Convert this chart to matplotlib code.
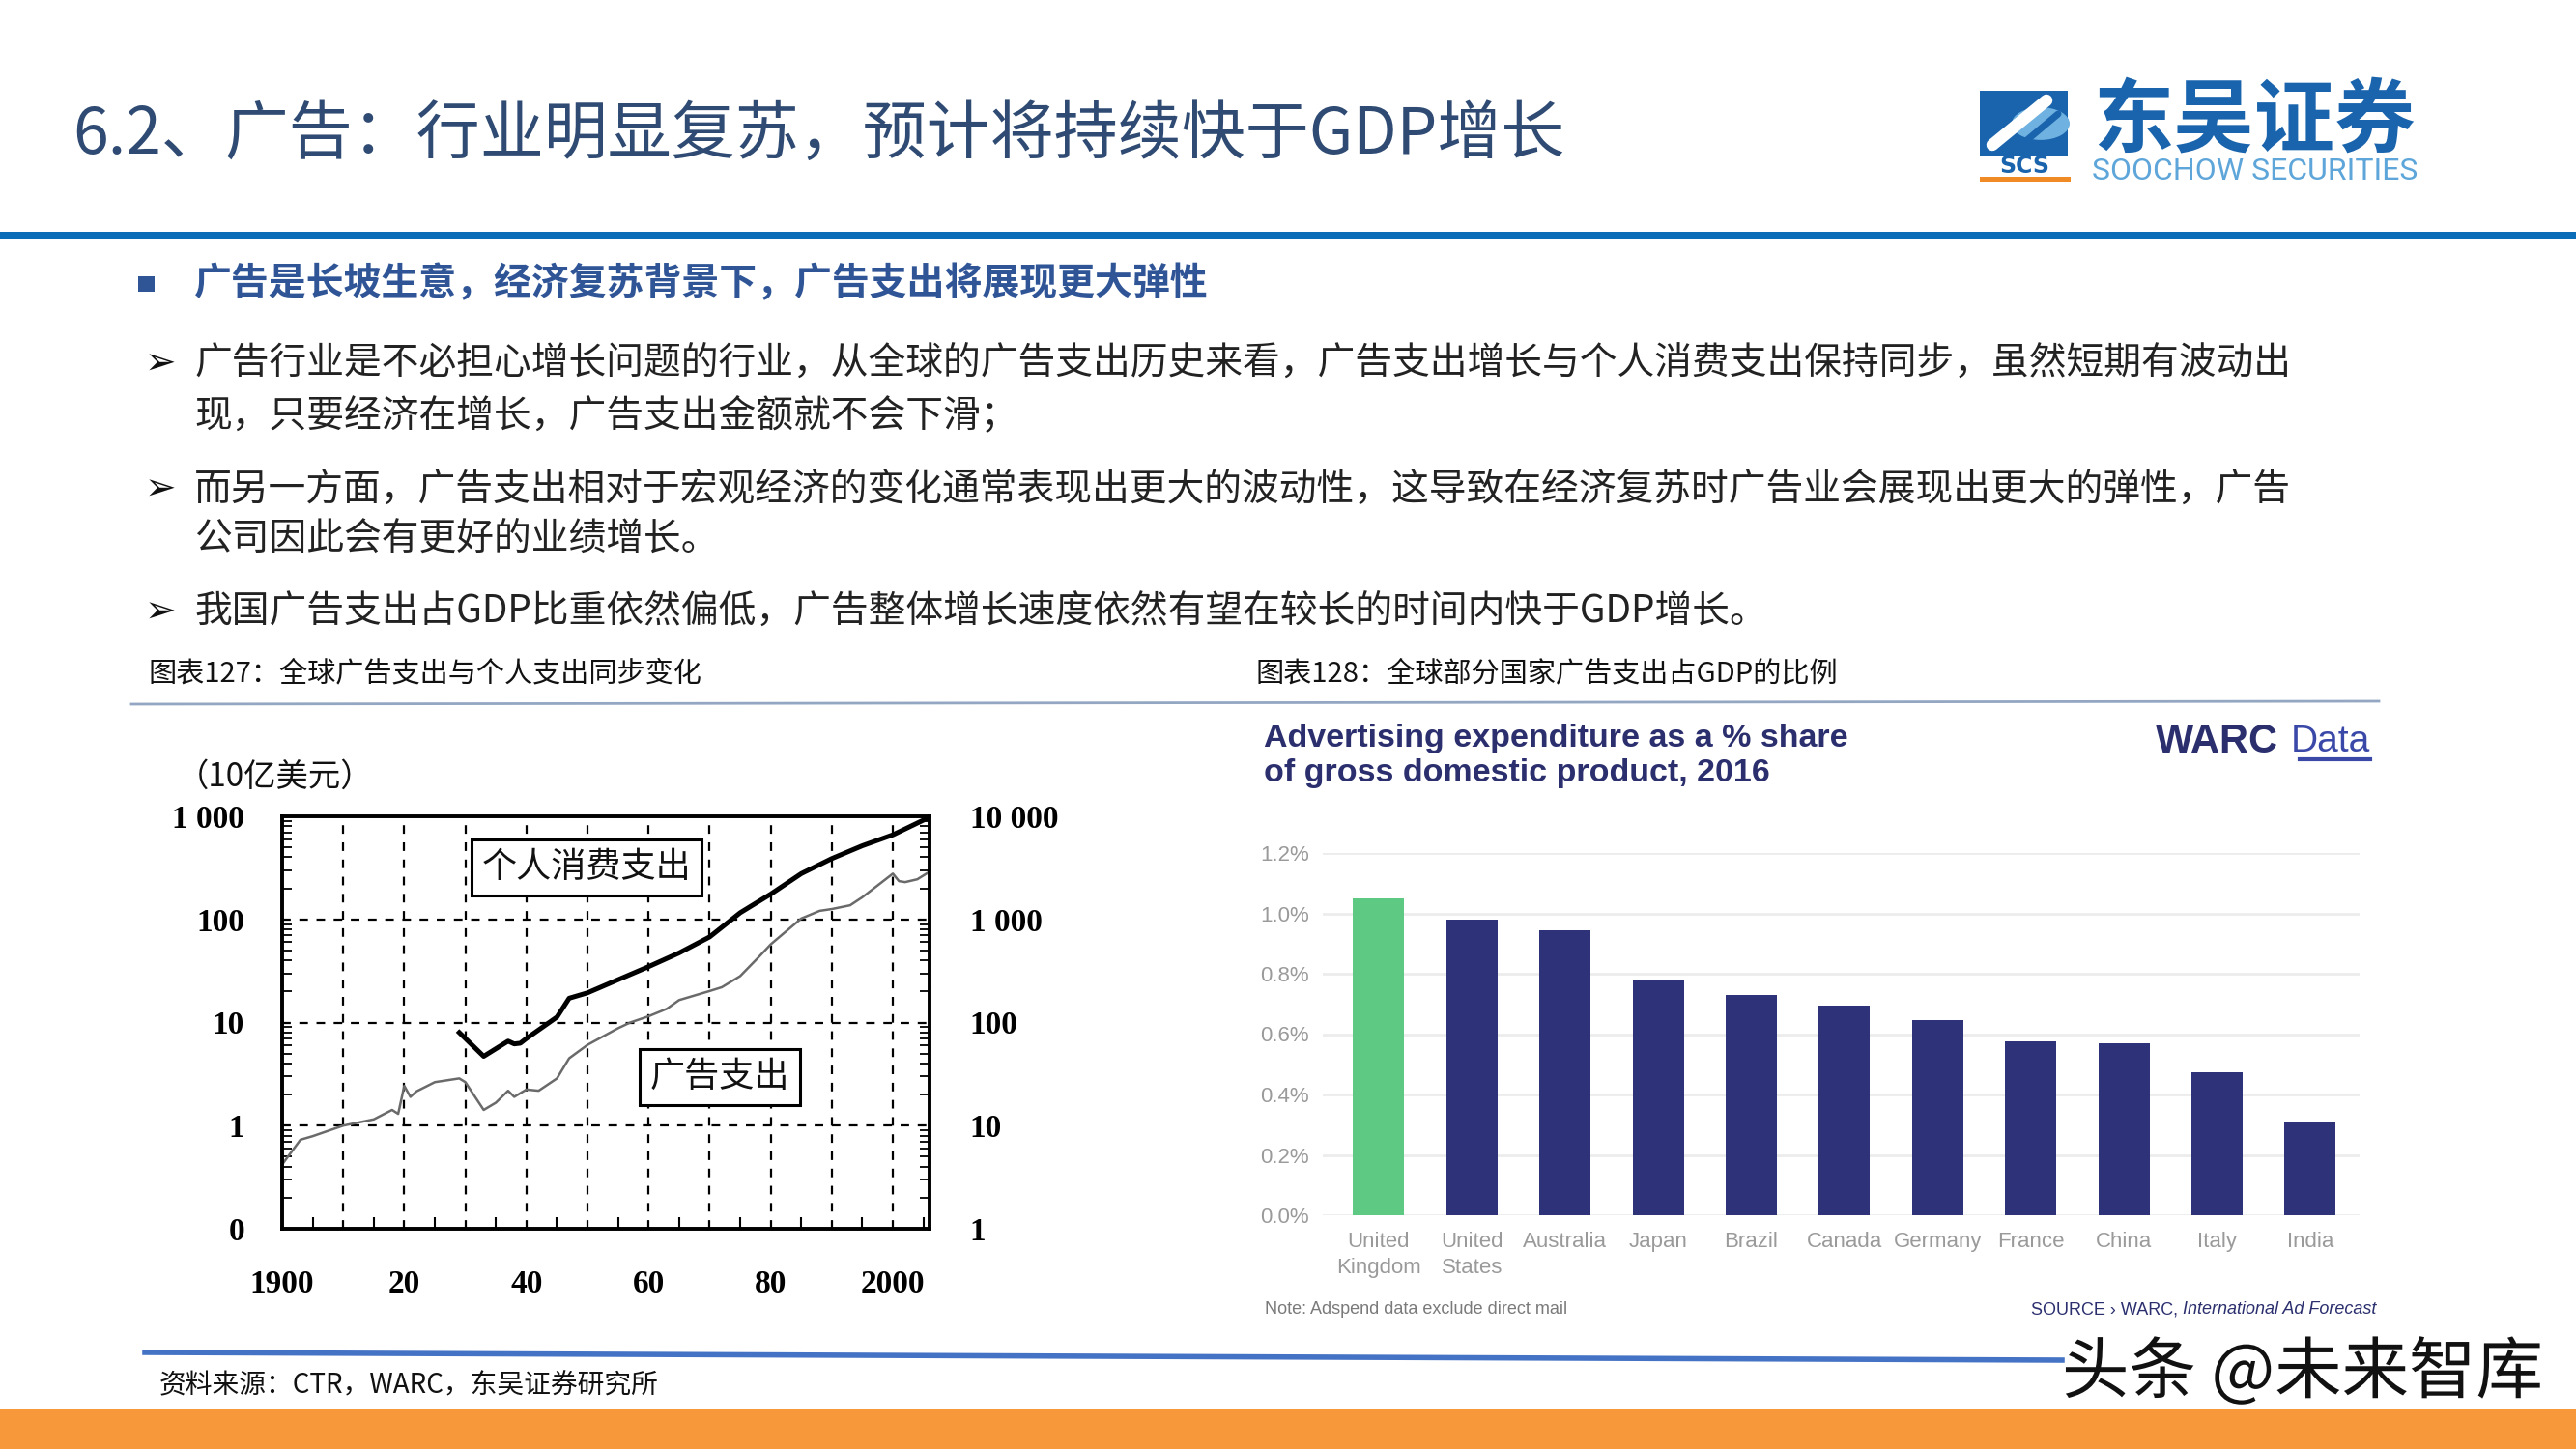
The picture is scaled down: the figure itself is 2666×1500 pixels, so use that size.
import matplotlib
matplotlib.use("Agg")
import matplotlib.pyplot as plt
import matplotlib.patheffects as pe
from matplotlib.patches import Rectangle, Circle
from matplotlib.lines import Line2D

plt.rcParams['font.family'] = ['Noto Sans CJK SC', 'DejaVu Sans']

W, H = 2666, 1500

# ---- data: chart 127 (log scale) ----
ad_years = [1900, 1903, 1905, 1910, 1915, 1918, 1919, 1920, 1921, 1922, 1925, 1929,
            1930, 1933, 1935, 1937, 1938, 1940, 1942, 1945, 1947, 1950, 1955, 1957,
            1960, 1963, 1965, 1970, 1972, 1975, 1978, 1980, 1985, 1988, 1990, 1993,
            1995, 1998, 2000, 2001, 2002, 2004, 2006]
ad_spend = [0.42, 0.73, 0.79, 1.0, 1.15, 1.42, 1.3, 2.43, 1.9, 2.15, 2.64, 2.87,
            2.64, 1.42, 1.67, 2.18, 1.9, 2.24, 2.18, 2.87, 4.5, 6.07, 8.8, 10.0,
            11.5, 13.6, 16.5, 20.2, 22.0, 28.2, 42.9, 57.3, 102, 121, 126, 137,
            164, 225, 278, 235, 230, 245, 290]

pce_years = [1929, 1933, 1937, 1938, 1939, 1940, 1945, 1947, 1950, 1955, 1960,
             1965, 1970, 1975, 1980, 1985, 1990, 1995, 2000, 2006]
pce = [80, 47, 66, 62, 63, 70, 113, 172, 194, 260, 348, 473, 676, 1160, 1760,
       2780, 3890, 5180, 6610, 9800]

left_ticks = [0.1, 1, 10, 100, 1000]
left_labels = ['0', '1', '10', '100', '1 000']
right_ticks = [1, 10, 100, 1000, 10000]
right_labels = ['1', '10', '100', '1 000', '10 000']

# ---- data: chart 128 ----
countries = ['United\nKingdom', 'United\nStates', 'Australia', 'Japan', 'Brazil',
             'Canada', 'Germany', 'France', 'China', 'Italy', 'India']
share = [1.05, 0.98, 0.945, 0.78, 0.73, 0.695, 0.645, 0.577, 0.57, 0.473, 0.306]
share_ticks = [0.0, 0.2, 0.4, 0.6, 0.8, 1.0, 1.2]

fig = plt.figure(figsize=(W / 100, H / 100), dpi=100)


def ftext(x, y, s, **kw):
    return fig.text(x / W, 1 - y / H, s, **kw)


def frect(x0, y0, x1, y1, **kw):
    fig.add_artist(Rectangle((x0 / W, 1 - y1 / H), (x1 - x0) / W, (y1 - y0) / H,
                             transform=fig.transFigure, **kw))


def fline(x0, y0, x1, y1, **kw):
    fig.add_artist(Line2D([x0 / W, x1 / W], [1 - y0 / H, 1 - y1 / H],
                          transform=fig.transFigure, **kw))


# ---- header ----
ftext(75, 140, '6.2、广告：行业明显复苏，预计将持续快于GDP增长', fontsize=47.5,
      color='#2f4b73', va='center')
frect(0, 240, W, 247, color='#0b6cb8', lw=0)

# logo
frect(2049, 94, 2140, 162, color='#1a64ad', lw=0)
fig.add_artist(Circle((2112 / W, 1 - 128 / H), 30 / W, transform=fig.transFigure,
                      color='#6fb1e0', lw=0))
fline(2062, 150, 2118, 104, color='white', lw=9, solid_capstyle='round')
fline(2080, 160, 2130, 118, color='#1a64ad', lw=5, solid_capstyle='round')
ftext(2095, 172, 'SCS', fontsize=17, fontweight='bold', color='#1a64ad',
      ha='center', va='center', family=['DejaVu Sans'])
frect(2049, 183, 2143, 188, color='#f08a24', lw=0)
ftext(2333, 126, '东吴证券', fontsize=60, fontweight='bold', color='#1a64ad',
      ha='center', va='center')
ftext(2334, 178, 'SOOCHOW SECURITIES', fontsize=23, color='#5ea6da',
      ha='center', va='center', family=['Roboto', 'DejaVu Sans'])

# ---- bullet text ----
frect(143, 286, 160, 302, color='#2f5597', lw=0)
ftext(201, 294, '广告是长坡生意，经济复苏背景下，广告支出将展现更大弹性', fontsize=28,
      fontweight='bold', color='#2f5597', va='center')

lines = [
    (377, True, '广告行业是不必担心增长问题的行业，从全球的广告支出历史来看，广告支出增长与个人消费支出保持同步，虽然短期有波动出'),
    (432, False, '现，只要经济在增长，广告支出金额就不会下滑；'),
    (507, True, '而另一方面，广告支出相对于宏观经济的变化通常表现出更大的波动性，这导致在经济复苏时广告业会展现出更大的弹性，广告'),
    (559, False, '公司因此会有更好的业绩增长。'),
    (634, True, '我国广告支出占GDP比重依然偏低，广告整体增长速度依然有望在较长的时间内快于GDP增长。'),
]
for y, bullet, s in lines:
    if bullet:
        ftext(150, y, '➢', fontsize=28, color='#111111', va='center',
              family=['DejaVu Sans'])
    ftext(201, y, s, fontsize=27.9, color='#222222', va='center')

ftext(153, 697, '图表127：全球广告支出与个人支出同步变化', fontsize=21,
      color='#111111', va='center')
ftext(1299, 697, '图表128：全球部分国家广告支出占GDP的比例', fontsize=21,
      color='#111111', va='center')
fline(136, 729, 2462, 726, color='#93a6c2', lw=2)

# ---- chart 127 ----
serif = ['Liberation Serif', 'DejaVu Serif']
ax = fig.add_axes([292 / W, 1 - 1272 / H, (962 - 292) / W, (1272 - 845) / H])
ax.plot(ad_years, ad_spend, color='#6a6a6a', lw=1.8)
ax.set_yscale('log')
ax.set_ylim(0.1, 1000)
ax.set_xlim(1900, 2006)
ax.set_yticks(left_ticks)
ax.set_yticklabels(left_labels)
dec = list(range(1900, 2001, 10))
ax.set_xticks(dec)
ax.set_xticklabels(['1900', '', '20', '', '40', '', '60', '', '80', '', '2000'])
ax.set_xticks(list(range(1905, 2006, 10)), minor=True)
ax.grid(True, which='major', color='black', linestyle=(0, (4, 4)), lw=1.6)
for sp in ax.spines.values():
    sp.set_linewidth(2.6)
ax.tick_params(axis='both', which='both', direction='in', color='black')
ax.tick_params(axis='y', which='major', length=0, pad=28)
ax.tick_params(axis='y', which='minor', length=7, width=1.3)
ax.tick_params(axis='x', which='major', length=0, pad=30)
ax.tick_params(axis='x', which='minor', length=9, width=1.5)
for lab in ax.get_xticklabels() + ax.get_yticklabels():
    lab.set_family(serif)
    lab.set_fontsize(24)
    lab.set_fontweight('bold')

ax2 = ax.twinx()
ax2.plot(pce_years, pce, color='black', lw=3.6)
ax2.set_yscale('log')
ax2.set_ylim(1, 10000)
ax2.set_yticks(right_ticks)
ax2.set_yticklabels(right_labels)
ax2.tick_params(axis='y', which='major', direction='in', length=0, pad=30)
ax2.tick_params(axis='y', which='minor', direction='in', length=7, width=1.3)
for sp in ax2.spines.values():
    sp.set_linewidth(2.6)
for lab in ax2.get_yticklabels():
    lab.set_family(serif)
    lab.set_fontsize(24)
    lab.set_fontweight('bold')

ftext(285, 804, '（10亿美元）', fontsize=24, color='#111111', ha='center',
      va='center')
box = dict(boxstyle='square,pad=0.3', fc='white', ec='black', lw=2.2)
ftext(607, 898, '个人消费支出', fontsize=26, color='#111111', ha='center',
      va='center', bbox=box)
ftext(745, 1115, '广告支出', fontsize=26, color='#111111', ha='center',
      va='center', bbox=box)

# ---- chart 128 ----
narrow = ['Liberation Sans Narrow', 'Liberation Sans', 'DejaVu Sans']
navy = '#2b2f6e'
bx = fig.add_axes([1369 / W, 1 - 1258 / H, (2442 - 1369) / W, (1258 - 883) / H])
colors = ['#5dc983'] + ['#2e3279'] * (len(share) - 1)
bx.bar(range(len(share)), share, width=0.55, color=colors, zorder=3)
bx.set_xlim(-0.6, len(share) - 0.47)
bx.set_ylim(0, 1.2)
bx.set_yticks(share_ticks)
bx.set_yticklabels([f'{v:.1f}%' for v in share_ticks])
bx.set_xticks(range(len(share)))
bx.set_xticklabels(countries)
bx.grid(True, axis='y', color='#ececec', lw=2)
for sp in bx.spines.values():
    sp.set_visible(False)
bx.tick_params(axis='both', length=0)
bx.tick_params(axis='y', pad=10)
bx.tick_params(axis='x', pad=12)
for lab in bx.get_xticklabels() + bx.get_yticklabels():
    lab.set_family(narrow)
    lab.set_fontsize(16)
    lab.set_color('#9a9a9a')
for lab in bx.get_xticklabels():
    lab.set_linespacing(1.4)
    lab.set_va('top')

ftext(1308, 765, 'Advertising expenditure as a % share', fontsize=24.5,
      fontweight='bold', color=navy, va='center', family=narrow)
ftext(1308, 801, 'of gross domestic product, 2016', fontsize=24.5,
      fontweight='bold', color=navy, va='center', family=narrow)
ftext(2231, 768, 'WARC', fontsize=30, fontweight='bold', color=navy,
      va='center', family=narrow)
ftext(2453, 768, 'Data', fontsize=28, color='#3a48a8', ha='right',
      va='center', family=narrow)
fline(2380, 786, 2453, 786, color='#3a48a8', lw=3)
ftext(1309, 1356, 'Note: Adspend data exclude direct mail', fontsize=13,
      color='#7a7a7a', va='center', family=narrow)
ftext(2259, 1356, 'SOURCE › WARC, ', fontsize=13, color=navy, ha='right',
      va='center', family=narrow)
ftext(2259, 1356, 'International Ad Forecast', fontsize=13, color=navy,
      va='center', style='italic', family=narrow)

# ---- footer ----
fline(150, 1400, 2134, 1408, color='#4472c4', lw=4)
ftext(165, 1434, '资料来源：CTR，WARC，东吴证券研究所', fontsize=20,
      color='#111111', va='center')
frect(0, 1459, W, H, color='#f7993a', lw=0)
ftext(2134, 1422, '头条 @未来智库', fontsize=50, color='#111111', va='center',
      path_effects=[pe.withStroke(linewidth=5, foreground='white')])

fig.savefig('out.png', dpi=100)
